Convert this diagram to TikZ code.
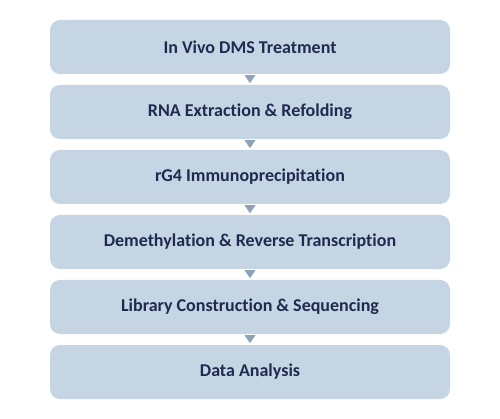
\documentclass[tikz,border=0pt]{standalone}
\usepackage{fontspec}
\setmainfont[Ligatures=NoCommon]{Carlito}
\usetikzlibrary{calc}
\definecolor{boxfill}{HTML}{C5D5E4}
\definecolor{txt}{HTML}{1F2A4E}
\definecolor{tricol}{HTML}{8FA3B8}
\begin{document}
\begin{tikzpicture}[x=1pt,y=1pt,
  stepbox/.style={draw=none,fill=boxfill,rounded corners=10pt,minimum width=400pt,minimum height=54pt,
    font=\fontsize{18}{21}\selectfont\bfseries,text=txt,inner sep=0pt},
  tri/.style={fill=tricol,draw=none}]
\useasboundingbox (0,0) rectangle (500,-419);
\node[stepbox] (b1) at (250,-47) {In Vivo DMS Treatment};
\node[stepbox] (b2) at (250,-112) {RNA Extraction \& Refolding};
\node[stepbox] (b3) at (250,-177) {rG4 Immunoprecipitation};
\node[stepbox] (b4) at (250,-242) {Demethylation \& Reverse Transcription};
\node[stepbox] (b5) at (250,-307) {Library Construction \& Sequencing};
\node[stepbox] (b6) at (250,-372) {Data Analysis};
\foreach \a/\b in {b1/b2,b2/b3,b3/b4,b4/b5,b5/b6}{
  \fill[tri] ($(\a.south)+(-5.5,-1)$) -- ($(\a.south)+(5.5,-1)$) -- ($(\a.south)+(0,-9)$) -- cycle;
}
\end{tikzpicture}
\end{document}
